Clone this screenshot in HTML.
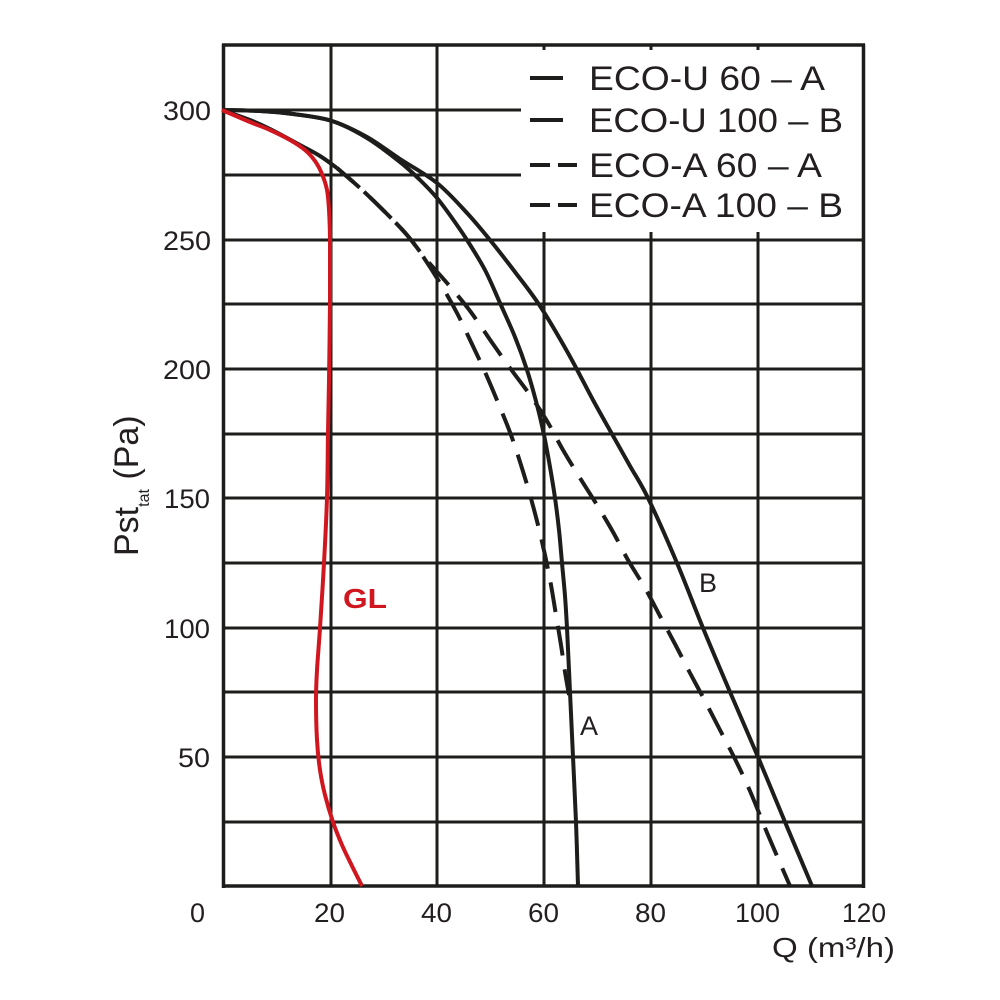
<!DOCTYPE html>
<html>
<head>
<meta charset="utf-8">
<style>
  html, body { margin:0; padding:0; background:#ffffff; }
  svg { display:block; }
  text { font-family: "Liberation Sans", Arial, sans-serif; fill:#231f20; }
</style>
</head>
<body>
<svg id="chart" width="1000" height="1000" viewBox="0 0 1000 1000" xmlns="http://www.w3.org/2000/svg">
  <rect x="0" y="0" width="1000" height="1000" fill="#ffffff"/>

  <!-- horizontal gridlines -->
  <g stroke="#1d1d1b" stroke-width="3" fill="none">
    <line x1="222" y1="110" x2="864" y2="110"/>
    <line x1="222" y1="175" x2="864" y2="175"/>
    <line x1="222" y1="240" x2="864" y2="240"/>
    <line x1="222" y1="304" x2="864" y2="304"/>
    <line x1="222" y1="369" x2="864" y2="369"/>
    <line x1="222" y1="434" x2="864" y2="434"/>
    <line x1="222" y1="498" x2="864" y2="498"/>
    <line x1="222" y1="563" x2="864" y2="563"/>
    <line x1="222" y1="628" x2="864" y2="628"/>
    <line x1="222" y1="692" x2="864" y2="692"/>
    <line x1="222" y1="757" x2="864" y2="757"/>
    <line x1="222" y1="822" x2="864" y2="822"/>
    <!-- vertical gridlines -->
    <line x1="331" y1="45" x2="331" y2="886"/>
    <line x1="437" y1="45" x2="437" y2="886"/>
    <line x1="544" y1="45" x2="544" y2="886"/>
    <line x1="651" y1="45" x2="651" y2="886"/>
    <line x1="758" y1="45" x2="758" y2="886"/>
  </g>

  <!-- legend box mask -->
  <rect x="521" y="50" width="341" height="182" fill="#ffffff"/>

  <!-- frame -->
  <g stroke="#1d1d1b" stroke-width="3.5" fill="none">
    <line x1="222" y1="45" x2="865" y2="45"/>
    <line x1="223.5" y1="44" x2="223.5" y2="888"/>
    <line x1="863.5" y1="44" x2="863.5" y2="888"/>
    <line x1="222" y1="886" x2="865" y2="886"/>
  </g>

  <!-- curves -->
  <g fill="none" stroke="#1d1d1b" stroke-width="4" stroke-linejoin="round" stroke-linecap="butt">
    <!-- common start of dashed curves (solid) -->
    <polyline class="smooth" points="222,110 250,120 272,130 300,145 320,156 337,168"/>
    <!-- ECO-A 100 - B dashed -->
    <polyline class="smooth" stroke-dasharray="30 14" points="337,168 360,188 385,212 407,235 425,258 447,283 467,307 480,325 493,344 510,368 530,395 547,421 563,450 580,478 597,505 613,532 628,560 645,588 660,616 675,644 690,673 705,701 720,730 735,759 750,791 768,835 790,886"/>
    <!-- ECO-A 60 - A dashed -->
    <polyline class="smooth" stroke-dasharray="30 14" stroke-dashoffset="8" points="337,168 360,188 385,212 407,235 422,255 440,283 457,313 471,342 485,372 499,405 511,435 521,465 530,495 538,525 545,555 551,585 556,615 561,645 565,672 569,695"/>
    <!-- ECO-U 100 - B solid -->
    <polyline class="smooth" points="222,110 260,111 293,114 332,121 367,137 400,159 437,183 467,213 490,240 515,272 540,306 568,353 593,400 612,434 630,466 648,498 677,563 703,628 730,692 758,757 785,822 812,886"/>
    <!-- ECO-U 60 - A solid -->
    <polyline class="smooth" points="222,110 260,111 293,114 332,121 367,138 400,162 420,180 437,198 452,218 467,240 485,270 500,303 515,337 527,370 537,405 544,435 550,467 555,498 559,530 562,563 565,596 567,628 570,692 573,757 576,822 578,886"/>
  </g>

  <!-- red GL curve -->
  <polyline class="smooth" fill="none" stroke="#d0161e" stroke-width="4" stroke-linejoin="round"
    points="222,110 250,122 270,130 290,140 305,150 315,161 322,174 327,190 329,210 330,240 330,300 329,380 328,433 327,498 324,563 320,628 317,670 316,700 317,740 320,770 325,795 333,822 342,845 352,866 362,886"/>

  <!-- legend -->
  <g stroke="#1d1d1b" stroke-width="4">
    <line x1="530" y1="78" x2="563" y2="78"/>
    <line x1="530" y1="120" x2="563" y2="120"/>
    <line x1="530" y1="165" x2="550" y2="165"/>
    <line x1="558" y1="165" x2="577" y2="165"/>
    <line x1="530" y1="205" x2="550" y2="205"/>
    <line x1="558" y1="205" x2="577" y2="205"/>
  </g>
  <g font-size="34">
    <text x="589" y="90" textLength="236" lengthAdjust="spacingAndGlyphs">ECO-U 60 – A</text>
    <text x="589" y="132" textLength="254" lengthAdjust="spacingAndGlyphs">ECO-U 100 – B</text>
    <text x="589" y="177" textLength="233" lengthAdjust="spacingAndGlyphs">ECO-A 60 – A</text>
    <text x="589" y="217" textLength="254" lengthAdjust="spacingAndGlyphs">ECO-A 100 – B</text>
  </g>

  <!-- y tick labels -->
  <g font-size="27">
    <text x="163" y="120" textLength="48" lengthAdjust="spacingAndGlyphs">300</text>
    <text x="163" y="250" textLength="48" lengthAdjust="spacingAndGlyphs">250</text>
    <text x="163" y="379" textLength="48" lengthAdjust="spacingAndGlyphs">200</text>
    <text x="164" y="508" textLength="46" lengthAdjust="spacingAndGlyphs">150</text>
    <text x="164" y="638" textLength="46" lengthAdjust="spacingAndGlyphs">100</text>
    <text x="178" y="767" textLength="32" lengthAdjust="spacingAndGlyphs">50</text>
  </g>

  <!-- x tick labels -->
  <g font-size="27">
    <text x="190" y="922" textLength="15" lengthAdjust="spacingAndGlyphs">0</text>
    <text x="314" y="922" textLength="31" lengthAdjust="spacingAndGlyphs">20</text>
    <text x="421" y="922" textLength="31" lengthAdjust="spacingAndGlyphs">40</text>
    <text x="528" y="922" textLength="31" lengthAdjust="spacingAndGlyphs">60</text>
    <text x="635" y="922" textLength="31" lengthAdjust="spacingAndGlyphs">80</text>
    <text x="735" y="922" textLength="45" lengthAdjust="spacingAndGlyphs">100</text>
    <text x="842" y="922" textLength="44" lengthAdjust="spacingAndGlyphs">120</text>
  </g>

  <!-- x axis title -->
  <text x="772" y="957" font-size="28" textLength="123" lengthAdjust="spacingAndGlyphs">Q (m³/h)</text>

  <!-- y axis title -->
  <text transform="translate(138,556) rotate(-90)" font-size="34">Pst<tspan font-size="16" dy="11">tat</tspan><tspan dy="-11"> (Pa)</tspan></text>

  <!-- curve labels -->
  <text x="343" y="608" font-size="28" font-weight="bold" style="fill:#d0161e" textLength="44" lengthAdjust="spacingAndGlyphs">GL</text>
  <text x="699" y="592" font-size="27">B</text>
  <text x="580" y="735" font-size="27">A</text>
</svg>
<script>
(function(){
  var NS = "http://www.w3.org/2000/svg";
  var pls = document.querySelectorAll("polyline.smooth");
  for (var i = 0; i < pls.length; i++) {
    var pl = pls[i];
    var raw = pl.getAttribute("points").trim().split(/\s+/);
    var p = raw.map(function(s){ var a = s.split(","); return [parseFloat(a[0]), parseFloat(a[1])]; });
    if (p.length < 3) continue;
    var d = "M" + p[0][0] + "," + p[0][1];
    for (var k = 0; k < p.length - 1; k++) {
      var p0 = p[k-1] || p[k], p1 = p[k], p2 = p[k+1], p3 = p[k+2] || p[k+1];
      var c1x = p1[0] + (p2[0] - p0[0]) / 6, c1y = p1[1] + (p2[1] - p0[1]) / 6;
      var c2x = p2[0] - (p3[0] - p1[0]) / 6, c2y = p2[1] - (p3[1] - p1[1]) / 6;
      d += " C" + c1x.toFixed(2) + "," + c1y.toFixed(2) + " " + c2x.toFixed(2) + "," + c2y.toFixed(2) + " " + p2[0] + "," + p2[1];
    }
    var path = document.createElementNS(NS, "path");
    for (var j = 0; j < pl.attributes.length; j++) {
      var at = pl.attributes[j];
      if (at.name !== "points" && at.name !== "class") path.setAttribute(at.name, at.value);
    }
    path.setAttribute("d", d);
    pl.parentNode.replaceChild(path, pl);
  }
})();
</script>
</body>
</html>
